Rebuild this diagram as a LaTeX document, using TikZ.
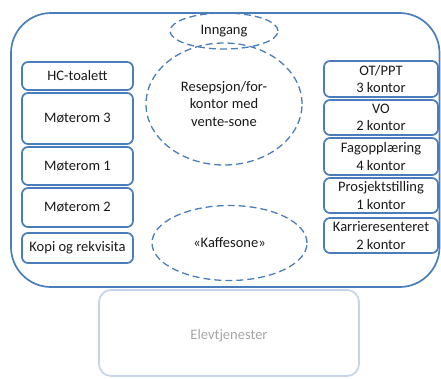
\documentclass[tikz,border=0pt]{standalone}
\usepackage{fontspec}
\setmainfont{Carlito}
\usetikzlibrary{shapes.geometric}
\definecolor{bl}{HTML}{4A7EBB}
\definecolor{lbl}{HTML}{C5D4EA}
\definecolor{gtx}{HTML}{A6A6A6}
\tikzset{
  txt/.style={font=\fontsize{14.5}{17.5}\selectfont},
  room/.style={draw=bl, line width=1.7pt, rounded corners=6pt, align=center, inner sep=0pt, txt, text=black!90},
  zone/.style={draw=bl, line width=1.3pt, dash pattern=on 7pt off 4pt, ellipse, inner sep=0pt, align=center, txt, text=black!90},
}
\begin{document}
\begin{tikzpicture}[x=1pt,y=-1pt]
\useasboundingbox (0,0) rectangle (441,378);
% Elevtjenester
\draw[draw=lbl, line width=1.7pt, rounded corners=12pt] (99,290) rectangle (359,376);
\node[text=gtx, txt] (elev) at (229,336) {Elevtjenester};
% outer building
\draw[draw=bl, line width=1.7pt, rounded corners=40pt] (11,13) rectangle (439.5,287);
% left rooms
\node[room, minimum width=111pt, minimum height=28pt] (hc) at (77.5,76) {HC-toalett};
\node[room, minimum width=111pt, minimum height=51pt] (m3) at (77.5,118.5) {Møterom 3};
\node[room, minimum width=111pt, minimum height=38pt] (m1) at (77.5,166) {Møterom 1};
\node[room, minimum width=111pt, minimum height=39pt] (m2) at (77.5,207.5) {Møterom 2};
\node[room, minimum width=111pt, minimum height=30pt] (kopi) at (77.5,248) {Kopi og rekvisita};
% right rooms
\node[room, minimum width=114pt, minimum height=36pt] (ot) at (381,79) {OT/PPT\\3 kontor};
\node[room, minimum width=114pt, minimum height=35pt] (vo) at (381,117.5) {VO\\2 kontor};
\node[room, minimum width=114pt, minimum height=37pt] (fag) at (381,156.5) {Fagopplæring\\4 kontor};
\node[room, minimum width=114pt, minimum height=35pt] (pro) at (381,195.5) {Prosjektstilling\\1 kontor};
\node[room, minimum width=114pt, minimum height=35pt] (kar) at (381,235.5) {Karrieresenteret\\2 kontor};
% zones
\node[zone, minimum width=108pt, minimum height=36pt] (inn) at (224,31) {Inngang};
\node[zone, minimum width=156pt, minimum height=122pt] (res) at (224,104) {Resepsjon/for-\\kontor med\\vente-sone};
\node[zone, minimum width=155pt, minimum height=75pt] (kaf) at (229.5,243) {«Kaffesone»};
\end{tikzpicture}
\end{document}
